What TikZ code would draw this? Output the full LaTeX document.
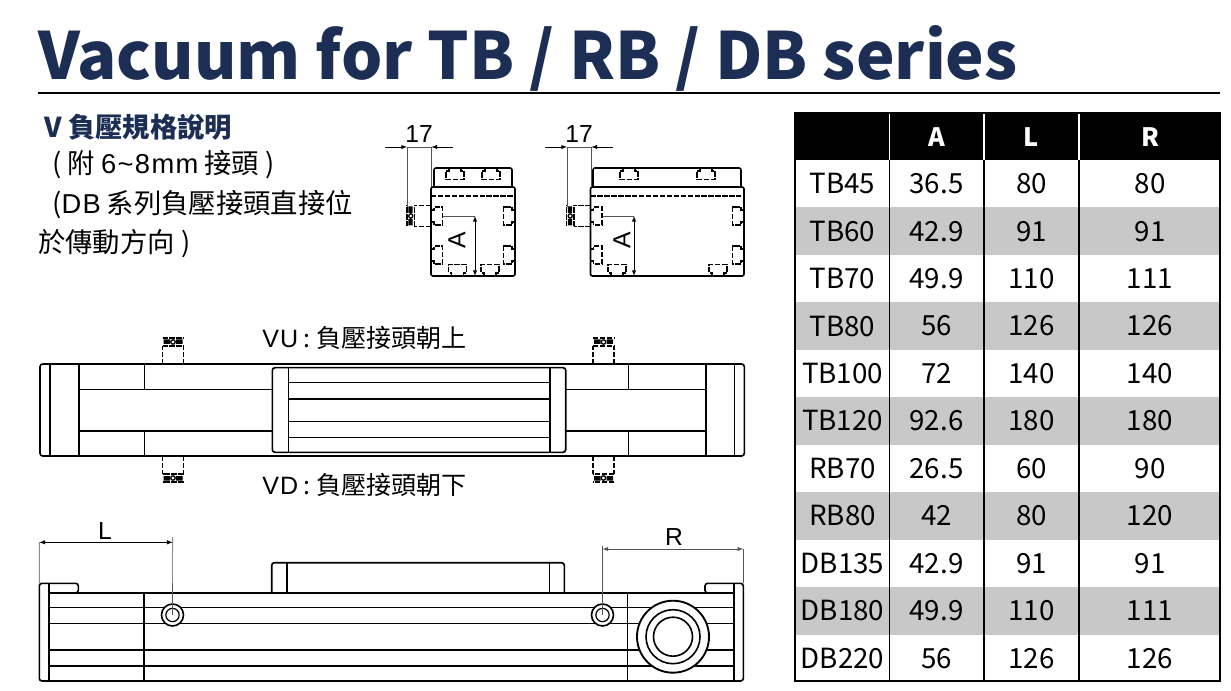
\documentclass[tikz,border=0pt]{standalone}
\usepackage{fontspec}
\setmainfont{Noto Sans}
\newfontfamily\cjk{Noto Sans CJK TC}
\newfontfamily\lat{Liberation Sans}
\newfontfamily\wide[LetterSpace=5]{Liberation Sans}
\definecolor{navy}{HTML}{1C2E54}
\definecolor{rowgray}{HTML}{C8C8C8}
\definecolor{dimgray}{HTML}{555555}
\tikzset{
	part/.style={draw=black,line width=1.2pt},
	thin part/.style={draw=black,line width=1pt},
	dimline/.style={draw=dimgray,line width=0.5pt},
	dimtip/.style={draw=black,line width=0.5pt,-latex},
	hidden/.style={draw=black,line width=0.9pt,dash pattern=on 4pt off 1.2pt},
	dimlabel/.style={font=\lat\fontsize{18.5}{18.5}\selectfont,inner sep=0pt},
	cell/.style={font=\cjk\fontsize{20.8}{20.8}\selectfont,inner sep=0pt},
	headcell/.style={font=\cjk\bfseries\fontsize{19}{19}\selectfont,text=white,inner sep=0pt},
	note/.style={font=\cjk\fontsize{20.5}{20.5}\selectfont,inner sep=0pt,anchor=west},
	viewlabel/.style={font=\cjk\fontsize{18.8}{18.8}\selectfont,inner sep=0pt,anchor=west},
	pics/tslot/.style={code={
		\draw[hidden] (-6,-5.5) -- (-6,-3) -- (-9,-3) -- (-9,5.5) -- (9,5.5) -- (9,-3) -- (6,-3) -- (6,-5.5);
	}},
	pics/fitting/.style={code={
		\draw[hidden] (-10.5,0) -- (-10.5,-18) (10.5,0) -- (10.5,-18);
		\draw[hidden] (-10.5,-18) -- (10.5,-18) (-10.5,-26) -- (10.5,-26);
		\fill[black] (-9.5,-24.5) rectangle (-3,-20) (3,-24.5) rectangle (9.5,-20);
		\draw[thin part] (0,-22) circle (2.2);
	}}
}
\begin{document}
\begin{tikzpicture}[x=0.75pt,y=-0.75pt]
	\useasboundingbox (0,0) rectangle (1231,691);

	\node[font=\cjk\bfseries\fontsize{48.8}{48.8}\selectfont,text=navy,inner sep=0pt,anchor=base west] (title) at (38,80) {Vacuum for TB / RB / DB series};
	\coordinate (rulea) at (38,93);
	\coordinate (ruleb) at (1220,93);
	\draw[line width=1.2pt] (rulea) -- (ruleb);

	\node[note,text=navy,font=\cjk\bfseries\fontsize{20.5}{20.5}\selectfont] (notea) at (44,127) {V 負壓規格說明};
	\node[note] (noteb) at (52,165) {( 附 {\wide 6\textasciitilde8mm} 接頭 )};
	\node[note] (notec) at (52,205) {({\wide DB} 系列負壓接頭直接位};
	\node[note] (noted) at (38,244) {於傳動方向 )};
	\node[viewlabel] (vu) at (262,338) {{\wide VU} : 負壓接頭朝上};
	\node[viewlabel] (vd) at (262,485) {{\wide VD} : 負壓接頭朝下};

	% end views
	\foreach \view/\fx/\bl/\br/\tl/\tr/\sa/\sb/\sc/\sd/\ax/\lx in {
		a/407/431/515/434/512/455/491/457.5/490/475/457,
		b/567/590.5/744/593/741/629/706/617/718/634/622}{
		\draw[part,rounded corners=1.5pt] (\tl,187) -- (\tl,168) -- (\tr,168) -- (\tr,187);
		\draw[part,rounded corners=1.5pt] (\bl,187) rectangle (\br,276);
		\draw[hidden] (\bl,196) -- (\br,196);
		\pic at (\sa,174) {tslot};
		\pic at (\sb,174) {tslot};
		\pic[rotate=180] at (\sc,270) {tslot};
		\pic[rotate=180] at (\sd,270) {tslot};
		\pic[rotate=90] at ({\bl+6},216) {tslot};
		\pic[rotate=90] at ({\bl+6},255) {tslot};
		\pic[rotate=-90] at ({\br-6},216) {tslot};
		\pic[rotate=-90] at ({\br-6},255) {tslot};
		\pic[rotate=90,yscale=.92] at (\bl,216) {fitting};
		\coordinate (\view-d1) at (\fx,147);
		\coordinate (\view-d2) at ({\fx+24.3},147);
		\coordinate (\view-o1) at ({\fx-22},147);
		\coordinate (\view-o2) at ({\fx+46},147);
		\coordinate (\view-e1) at (\fx,207);
		\coordinate (\view-e2) at ({\fx+24.3},187);
		\coordinate (\view-a0) at ({\bl+12},216);
		\coordinate (\view-a1) at (\ax,216);
		\coordinate (\view-a2) at (\ax,276);
		\draw[dimline] (\view-d1) -- (\view-e1) (\view-d2) -- (\view-e2) (\view-d1) -- (\view-d2);
		\draw[dimtip] (\view-o1) -- (\view-d1);
		\draw[dimtip] (\view-o2) -- (\view-d2);
		\draw[dimline] (\view-a0) -- (\view-a1);
		\draw[dimtip,latex-latex] (\view-a1) -- (\view-a2);
		\node[dimlabel] (\view-17) at ({\fx+12},134) {17};
		\node[dimlabel,rotate=90] (\view-a) at (\lx,240) {A};
	}

	% top view
	\pic at (173,364) {fitting};
	\pic at (603.5,364) {fitting};
	\pic[rotate=180] at (173,456) {fitting};
	\pic[rotate=180] at (603.5,456) {fitting};
	\draw[part,rounded corners=2pt] (40,364) rectangle (744.3,456);
	\foreach \x in {50,78.7,705.7,734.3}
		\draw[part] (\x,364) -- (\x,456);
	\foreach \x in {144.3,628.3}
		\draw[part] (\x,364) -- (\x,389.3) (\x,431) -- (\x,456);
	\foreach \y in {389.3,431}
		\draw[thin part] (78.7,\y) -- (272.3,\y) (565.7,\y) -- (705.7,\y);
	\draw[part,rounded corners=2pt] (272.3,367.7) rectangle (565.7,452.3);
	\foreach \x in {288.3,550}
		\draw[part] (\x,367.7) -- (\x,452.3);
	\foreach \y in {382.7,421.3,437.3}
		\draw[thin part] (288.3,\y) -- (550,\y);
	\draw[part] (288.3,399) -- (550,399);

	% side view
	\draw[part,rounded corners=2pt] (49,593) -- (78.3,593) -- (78.3,583.3) -- (39.3,583.3) -- (39.3,681) -- (743.3,681) -- (743.3,583.3) -- (705,583.3) -- (705,593) -- (734,593);
	\draw[part] (49,593) -- (734,593);
	\draw[part] (49,583.3) -- (49,681) (734,583.3) -- (734,681);
	\foreach \y in {607.3,623.3,650,666}
		\draw[thin part] (49,\y) -- (734,\y);
	\foreach \x in {143.7,627.3}
		\draw[part] (\x,593) -- (\x,681);
	\draw[part,rounded corners=2pt] (271.7,593) -- (271.7,562.7) -- (564.3,562.7) -- (564.3,593);
	\foreach \x in {286.7,549.3}
		\draw[part] (\x,562.7) -- (\x,593);
	\foreach \c/\x in {l/172.5,r/602.5}{
		\node[circle,draw,line width=1.2pt,fill=white,inner sep=0pt,minimum size=16.5pt] (port\c) at (\x,615) {};
		\node[circle,draw,line width=0.9pt,minimum size=10pt,inner sep=0pt] (bore\c) at (\x,615) {};
	}
	\foreach \r/\w in {36/1.4pt,27/1.2pt,19.5/1.2pt}
		\draw[line width=\w,fill=white] (673,636.7) circle (\r);

	\coordinate (l1) at (39.3,542.3);
	\coordinate (l2) at (172.7,542.3);
	\coordinate (l3) at (39.3,583.3);
	\coordinate (l4) at (172.7,537);
	\coordinate (r1) at (602.5,549);
	\coordinate (r2) at (743.3,549);
	\coordinate (r3) at (743.3,583.3);
	\coordinate (r4) at (602.5,546);
	\draw[dimtip,latex-latex] (l1) -- (l2);
	\draw[dimtip,latex-latex,draw=dimgray] (r1) -- (r2);
	\draw[dimline] (l1) -- (l3) (l4) -- (portl.center);
	\draw[dimline] (r2) -- (r3) (r4) -- (portr.center);
	\node[dimlabel] (lbl) at (105,531) {L};
	\node[dimlabel] (rbl) at (674,537) {R};

	% table
	\fill[black] (794,112) rectangle (1221,160);
	\foreach \row in {2,4,...,10}
		\fill[rowgray] (796,{160+47.45*(\row-1)}) rectangle (1219,{160+47.45*\row});
	\foreach \x in {889.5,984,1079}{
		\draw[white,line width=0.8pt] (\x,114) -- (\x,160);
		\draw[black,line width=1.1pt] (\x,160) -- (\x,682);
	}
	\draw[black,line width=2pt] (795,113) rectangle (1220,681);
	\node[headcell] (heada) at (936.5,137) {A};
	\node[headcell] (headl) at (1031.5,137) {L};
	\node[headcell] (headr) at (1150,137) {R};
	\foreach \name/\valA/\valL/\valR [count=\row] in {
		TB45/36.5/80/80,
		TB60/42.9/91/91,
		TB70/49.9/110/111,
		TB80/56/126/126,
		TB100/72/140/140,
		TB120/92.6/180/180,
		RB70/26.5/60/90,
		RB80/42/80/120,
		DB135/42.9/91/91,
		DB180/49.9/110/111,
		DB220/56/126/126}{
		\node[cell] (\name) at (842.5,{160+47.45*(\row-.5)}) {\name};
		\node[cell] (\name-a) at (936.5,{160+47.45*(\row-.5)}) {\valA};
		\node[cell] (\name-l) at (1031.5,{160+47.45*(\row-.5)}) {\valL};
		\node[cell] (\name-r) at (1150,{160+47.45*(\row-.5)}) {\valR};
	}
\end{tikzpicture}
\end{document}
